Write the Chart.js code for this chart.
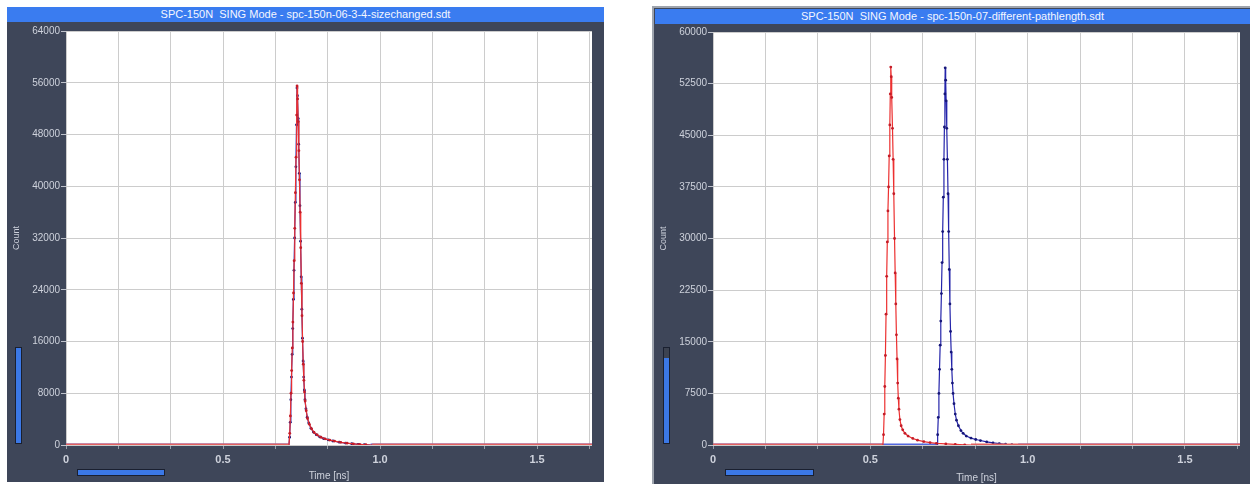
<!DOCTYPE html>
<html>
<head>
<meta charset="utf-8">
<script src="https://cdn.jsdelivr.net/npm/chart.js@4.4.1/dist/chart.umd.min.js"></script>
<style>
  body { margin: 0; background: #ffffff; width: 1252px; height: 484px; position: relative; overflow: hidden; }
  .panel { position: absolute; background: #3e4659; }
  .bar { position: absolute; background: #3a7cf0; color: #f4f6ff; text-align: center; white-space: pre;
         font: 11px "Liberation Sans Narrow", "Liberation Sans", Arial, sans-serif; line-height: 15px; }
  .vslider { position: absolute; background: #3b78e6; border: 1px solid #1a2030; }
  .hslider { position: absolute; background: #3b78e6; border: 1px solid #1a2030; }
  canvas { position: absolute; }
</style>
</head>
<body>
<div class="panel" style="left:7px;top:7px;width:597px;height:475px;"></div>
<div class="panel" style="left:652px;top:6px;width:596px;height:478px;border-left:2px solid #9ea4ae;border-top:2px solid #9ea4ae;"></div>
<div class="bar" id="leftBar" style="left:7px;top:7px;width:597px;height:15px;"></div>
<div class="bar" id="rightBar" style="left:655px;top:9px;width:595px;height:15px;"></div>
<div class="vslider" style="left:15px;top:347px;width:5px;height:95px;"></div>
<div class="vslider" style="left:663px;top:347px;width:5px;height:95px;background:linear-gradient(#3c4250 0 10px,#3b78e6 10px);"></div>
<div class="hslider" style="left:77px;top:469px;width:86px;height:5px;"></div>
<div class="hslider" style="left:725px;top:469px;width:87px;height:5px;"></div>
<canvas id="leftChart" width="597" height="475" style="left:7px;top:7px;"></canvas>
<canvas id="rightChart" width="596" height="476" style="left:654px;top:8px;"></canvas>
<script>
var leftTitle = 'SPC-150N  SING Mode - spc-150n-06-3-4-sizechanged.sdt';
var rightTitle = 'SPC-150N  SING Mode - spc-150n-07-different-pathlength.sdt';

// x grid every 1/6 ns, labels only on the half ns
var xGridTicks = [0, 0.16667, 0.33333, 0.5, 0.66667, 0.83333, 1.0, 1.16667, 1.33333, 1.5, 1.66667];
var xLabelValues = [0, 0.5, 1.0, 1.5];
var xTickLabels = ['0', '0.5', '1.0', '1.5'];
var xMax = 1.675;

var leftYMax = 64000, leftYStep = 8000;
var rightYMax = 60000, rightYStep = 7500;

// left: both curves on top of each other
var leftBlueTime = [0, 0.710, 0.712, 0.714, 0.716, 0.718, 0.720, 0.722, 0.724, 0.726, 0.728, 0.730, 0.732, 0.734, 0.7355,
  0.737, 0.739, 0.741, 0.743, 0.745, 0.747, 0.749, 0.751, 0.753, 0.755, 0.757, 0.759, 0.761, 0.764, 0.768, 0.773,
  0.780, 0.788, 0.797, 0.808, 0.820, 0.835, 0.850, 0.870, 0.890, 0.910, 0.930, 0.950, 0.970, 1.675];
var leftBlueCount = [0, 0, 1200, 3500, 7000, 10500, 14000, 18000, 22500, 27000, 32000, 37500, 43000, 49500, 55200,
  54000, 50500, 46500, 42000, 37000, 31500, 26000, 21000, 16500, 13000, 10500, 8500, 7000, 5600, 4300, 3400,
  2600, 2000, 1600, 1250, 1000, 800, 620, 430, 290, 190, 110, 50, 0, 0];

var leftRedTime = [0, 0.710, 0.7125, 0.7145, 0.7165, 0.7185, 0.7205, 0.7225, 0.7245, 0.7265, 0.7285, 0.7305, 0.7325, 0.7345, 0.7358,
  0.7375, 0.7395, 0.7415, 0.7435, 0.7455, 0.7475, 0.7495, 0.7515, 0.7535, 0.7555, 0.7575, 0.7595, 0.7615, 0.765, 0.769, 0.775,
  0.782, 0.790, 0.800, 0.812, 0.825, 0.840, 0.855, 0.875, 0.895, 0.915, 0.935, 0.955, 0.975, 1.675];
var leftRedCount = [0, 0, 1800, 4500, 8000, 11500, 15000, 19000, 23500, 28500, 33500, 39000, 44500, 51000, 55500,
  53500, 50000, 45500, 41000, 36000, 30500, 25000, 20000, 16000, 12500, 10000, 8200, 6800, 5300, 4100, 3200,
  2500, 1950, 1550, 1200, 950, 760, 600, 420, 280, 180, 100, 40, 0, 0];

// right: red arrives earlier than blue
var rightRedTime = [0, 0.540, 0.542, 0.544, 0.546, 0.548, 0.550, 0.552, 0.554, 0.556, 0.558, 0.560, 0.562, 0.5635, 0.565,
  0.5665, 0.568, 0.5705, 0.5725, 0.5746, 0.577, 0.579, 0.581, 0.583, 0.585, 0.587, 0.589, 0.591, 0.594, 0.598, 0.603,
  0.610, 0.620, 0.635, 0.650, 0.670, 0.690, 0.710, 0.740, 0.770, 0.800, 0.820, 1.675];
var rightRedCount = [0, 0, 1500, 4500, 8500, 13000, 19000, 24500, 29500, 34000, 37500, 42000, 46500, 51000, 54900,
  53500, 50500, 46000, 41500, 36500, 30000, 25000, 20500, 16000, 12500, 9000, 6800, 5200, 3700, 2800, 2200,
  1700, 1300, 950, 700, 500, 350, 250, 150, 80, 30, 0, 0];

var rightBlueTime = [0, 0.712, 0.714, 0.716, 0.718, 0.720, 0.722, 0.724, 0.726, 0.728, 0.730, 0.732, 0.734, 0.7355, 0.737, 0.738,
  0.7395, 0.741, 0.743, 0.745, 0.747, 0.749, 0.751, 0.753, 0.755, 0.757, 0.759, 0.761, 0.763, 0.766, 0.770, 0.774,
  0.780, 0.788, 0.795, 0.805, 0.820, 0.835, 0.850, 0.870, 0.890, 0.910, 0.930, 0.950, 0.970, 1.675];
var rightBlueCount = [0, 0, 1500, 4000, 7500, 11000, 14500, 18000, 22000, 26500, 31000, 36000, 41500, 46200, 51000, 54800,
  53000, 50000, 46000, 41500, 36500, 31000, 25500, 20500, 16500, 13500, 11000, 9000, 7500, 6000, 4500, 3600,
  2800, 2100, 1700, 1300, 1000, 800, 650, 450, 300, 200, 110, 50, 0, 0];

var redLine = 'rgb(236,48,48)', redDot = 'rgb(196,28,40)', redBase = 'rgb(228,98,96)';
var blueLine = 'rgb(36,36,170)', blueDot = 'rgb(22,22,120)', blueBase = 'rgb(84,104,222)';
var tickText = 'rgb(206,210,220)';

function toPoints(t, c) {
  var pts = [];
  for (var i = 0; i < t.length; i++) pts.push({x: t[i], y: c[i]});
  return pts;
}

function series(t, c, line, dot, base) {
  return {
    data: toPoints(t, c),
    showLine: true,
    borderColor: line,
    borderWidth: 1.2,
    pointRadius: function(ctx) { return ctx.raw && ctx.raw.y > 0 ? 1.4 : 0; },
    pointBackgroundColor: dot,
    pointBorderWidth: 0,
    segment: {
      borderWidth: function(ctx) { return (ctx.p0.parsed.y === 0 && ctx.p1.parsed.y === 0) ? 3 : 1.2; },
      borderColor: function(ctx) { return (ctx.p0.parsed.y === 0 && ctx.p1.parsed.y === 0) ? base : line; }
    }
  };
}

var whiteArea = {
  id: 'whiteArea',
  beforeDraw: function(chart) {
    var a = chart.chartArea, c = chart.ctx;
    c.save();
    c.fillStyle = '#ffffff';
    c.fillRect(a.left, a.top, a.right - a.left, a.bottom - a.top);
    c.restore();
  }
};

function makeChart(id, datasets, yMax, yStep, xH, rightPad) {
  return new Chart(document.getElementById(id), {
    type: 'scatter',
    data: { datasets: datasets },
    plugins: [whiteArea],
    options: {
      responsive: false,
      animation: false,
      devicePixelRatio: 1,
      layout: { padding: { top: 24, right: rightPad, left: 0, bottom: 0 } },
      plugins: { legend: { display: false }, tooltip: { enabled: false } },
      scales: {
        x: {
          type: 'linear', min: 0, max: xMax,
          afterBuildTicks: function(s) { s.ticks = xGridTicks.map(function(v) { return {value: v}; }); },
          afterFit: function(s) { s.height = xH; },
          grid: { color: 'rgb(204,204,204)', tickColor: 'rgb(150,156,168)', tickLength: 4 },
          border: { display: false },
          ticks: {
            autoSkip: false, maxRotation: 0, padding: 4, color: tickText,
            font: { family: 'Liberation Sans, Arial', size: 11, weight: 'bold' },
            callback: function(v) {
              for (var i = 0; i < xLabelValues.length; i++) {
                if (Math.abs(v - xLabelValues[i]) < 1e-4) return xTickLabels[i];
              }
              return '';
            }
          },
          title: { display: true, text: 'Time [ns]', color: tickText, padding: { top: 0, bottom: 0 },
                   font: { family: 'Liberation Sans, Arial', size: 10 } }
        },
        y: {
          min: 0, max: yMax,
          afterFit: function(s) { s.width = 59; },
          grid: { color: 'rgb(204,204,204)', tickColor: 'rgb(190,194,204)', tickLength: 5 },
          border: { display: false },
          ticks: { stepSize: yStep, padding: 1, color: tickText,
                   font: { family: 'Liberation Sans, Arial', size: 10 },
                   callback: function(v) { return String(v); } },
          title: { display: true, text: 'Count', color: tickText, padding: { top: 4, bottom: 0 },
                   font: { family: 'Liberation Sans, Arial', size: 9 } }
        }
      }
    }
  });
}

document.getElementById('leftBar').textContent = leftTitle;
document.getElementById('rightBar').textContent = rightTitle;

makeChart('leftChart', [
  series(leftRedTime, leftRedCount, redLine, redDot, redBase),
  series(leftBlueTime, leftBlueCount, blueLine, blueDot, blueBase)
], leftYMax, leftYStep, 37, 12);

makeChart('rightChart', [
  series(rightRedTime, rightRedCount, redLine, redDot, redBase),
  series(rightBlueTime, rightBlueCount, blueLine, blueDot, blueBase)
], rightYMax, rightYStep, 39, 10);
</script>
</body>
</html>
